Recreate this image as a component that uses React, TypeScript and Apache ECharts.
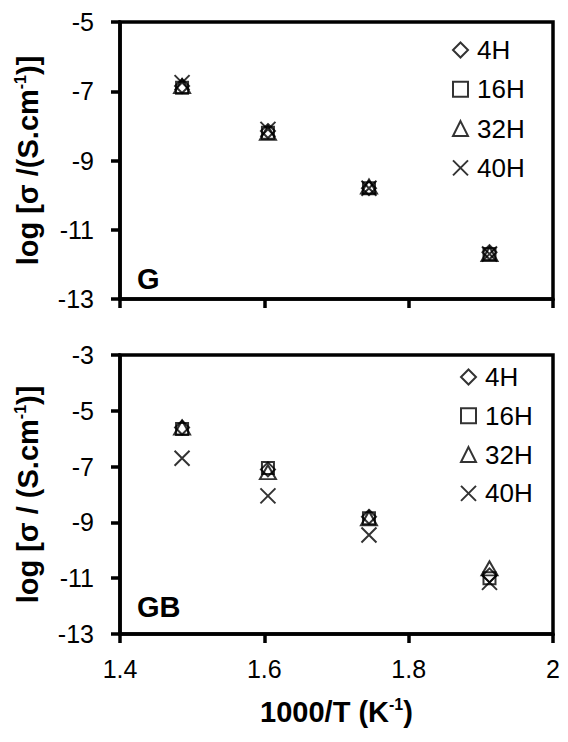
import React, { useEffect, useRef } from "react";
import * as echarts from "echarts";

const FONT = "'Liberation Sans', Arial, sans-serif";

const xValues = [1.486, 1.605, 1.745, 1.912];
const seriesNames = ["4H", "16H", "32H", "40H"];

// Panel G
const g4H = [-6.85, -8.15, -9.8, -11.65];
const g16H = [-6.9, -8.2, -9.8, -11.7];
const g32H = [-6.85, -8.2, -9.75, -11.7];
const g40H = [-6.75, -8.1, -9.8, -11.7];

// Panel GB
const gb4H = [-5.6, -7.1, -8.8, -10.9];
const gb16H = [-5.65, -7.05, -8.85, -11.0];
const gb32H = [-5.6, -7.2, -8.85, -10.65];
const gb40H = [-6.7, -8.05, -9.45, -11.15];

const xTicks = [1.4, 1.6, 1.8, 2];
const yTicksG = [-13, -11, -9, -7, -5];
const yTicksGB = [-13, -11, -9, -7, -5, -3];

const CROSS = "path://M0,0L10,10M10,0L0,10";
const symbols: any[] = ["diamond", "rect", "triangle", CROSS];
const symbolSizes: any[] = [14, 12, [16, 14], 15];

export default function App() {
  const ref = useRef<HTMLDivElement>(null);

  useEffect(() => {
    if (!ref.current) return;
    const chart = echarts.init(ref.current, undefined, { renderer: "svg" });

    const gData = [g4H, g16H, g32H, g40H];
    const gbData = [gb4H, gb16H, gb32H, gb40H];

    const mkSeries = (data: number[][], gridIdx: number) =>
      data.map((vals, i) => ({
        type: "scatter",
        name: seriesNames[i],
        xAxisIndex: gridIdx,
        yAxisIndex: gridIdx,
        symbol: symbols[i],
        symbolSize: symbolSizes[i],
        data: vals.map((v, j) => [xValues[j], v]),
        itemStyle: { color: "rgba(0,0,0,0)", borderColor: "#000", borderWidth: 2 },
        emphasis: { disabled: true },
      }));

    const axisLine = { show: true, onZero: false, lineStyle: { color: "#000", width: 3.5 } };
    const axisTick = (vals: number[]) => ({
      show: true,
      inside: false,
      length: 9,
      customValues: vals,
      lineStyle: { color: "#000", width: 3.5 },
    });

    const mkLegend = (left: number, top: number, gap: number) => ({
      data: seriesNames,
      orient: "vertical",
      left,
      top,
      padding: 0,
      itemWidth: 15,
      itemHeight: 15,
      itemGap: gap,
      selectedMode: false,
      itemStyle: { color: "rgba(0,0,0,0)", borderColor: "#000", borderWidth: 2 },
      textStyle: { fontSize: 26, color: "#000", fontFamily: FONT, lineHeight: 26, padding: [0, 0, 0, 4] },
    });

    const supStyle = { fontSize: 16, fontWeight: "bold", color: "#000", fontFamily: FONT, verticalAlign: "top", lineHeight: 32 };

    const yName = (text: string) => ({
      name: text,
      nameLocation: "middle",
      nameRotate: 90,
      nameGap: 76,
      nameTextStyle: {
        fontSize: 29,
        fontWeight: "bold",
        color: "#000",
        fontFamily: FONT,
        lineHeight: 32,
        rich: { sup: supStyle },
      },
    });

    const option: any = {
      animation: false,
      backgroundColor: "#fff",
      grid: [
        { left: 120, top: 22, width: 433, height: 277, show: true, borderColor: "#000", borderWidth: 3.5 },
        { left: 120, top: 355, width: 433, height: 279, show: true, borderColor: "#000", borderWidth: 3.5 },
      ],
      xAxis: [
        {
          gridIndex: 0,
          type: "value",
          min: 1.4,
          max: 2,
          axisLine,
          axisTick: axisTick(xTicks),
          axisLabel: { show: false },
          splitLine: { show: false },
        },
        {
          gridIndex: 1,
          type: "value",
          min: 1.4,
          max: 2,
          axisLine,
          axisTick: axisTick(xTicks),
          axisLabel: {
            show: true,
            customValues: xTicks,
            margin: 22,
            fontSize: 25,
            color: "#000",
            fontFamily: FONT,
            formatter: (v: number) => String(Math.round(v * 10) / 10),
          },
          splitLine: { show: false },
          name: "1000/T (K{sup|-1})",
          nameLocation: "middle",
          nameGap: 62,
          nameTextStyle: {
            fontSize: 29,
            fontWeight: "bold",
            color: "#000",
            fontFamily: FONT,
            lineHeight: 32,
            rich: { sup: supStyle },
          },
        },
      ],
      yAxis: [
        {
          gridIndex: 0,
          type: "value",
          min: -13,
          max: -5,
          axisLine,
          axisTick: axisTick(yTicksG),
          axisLabel: { show: true, customValues: yTicksG, margin: 26, fontSize: 25, color: "#000", fontFamily: FONT },
          splitLine: { show: false },
          ...yName("log [σ /(S.cm{sup|-1})]"),
        },
        {
          gridIndex: 1,
          type: "value",
          min: -13,
          max: -3,
          axisLine,
          axisTick: axisTick(yTicksGB),
          axisLabel: { show: true, customValues: yTicksGB, margin: 26, fontSize: 25, color: "#000", fontFamily: FONT },
          splitLine: { show: false },
          ...yName("log [σ / (S.cm{sup|-1})]"),
        },
      ],
      legend: [mkLegend(452, 37, 13.3), mkLegend(460, 364, 12.8)],
      graphic: [
        {
          type: "text",
          left: 137,
          top: 264,
          style: { text: "G", fontSize: 29, fontWeight: "bold", fill: "#000", fontFamily: FONT },
        },
        {
          type: "text",
          left: 137,
          top: 592,
          style: { text: "GB", fontSize: 29, fontWeight: "bold", fill: "#000", fontFamily: FONT },
        },
      ],
      series: [...mkSeries(gData, 0), ...mkSeries(gbData, 1)],
    };

    chart.setOption(option);
    return () => chart.dispose();
  }, []);

  return (
    <div
      ref={ref}
      style={{ position: "fixed", left: 0, top: 0, width: 568, height: 742, background: "#fff" }}
    />
  );
}
